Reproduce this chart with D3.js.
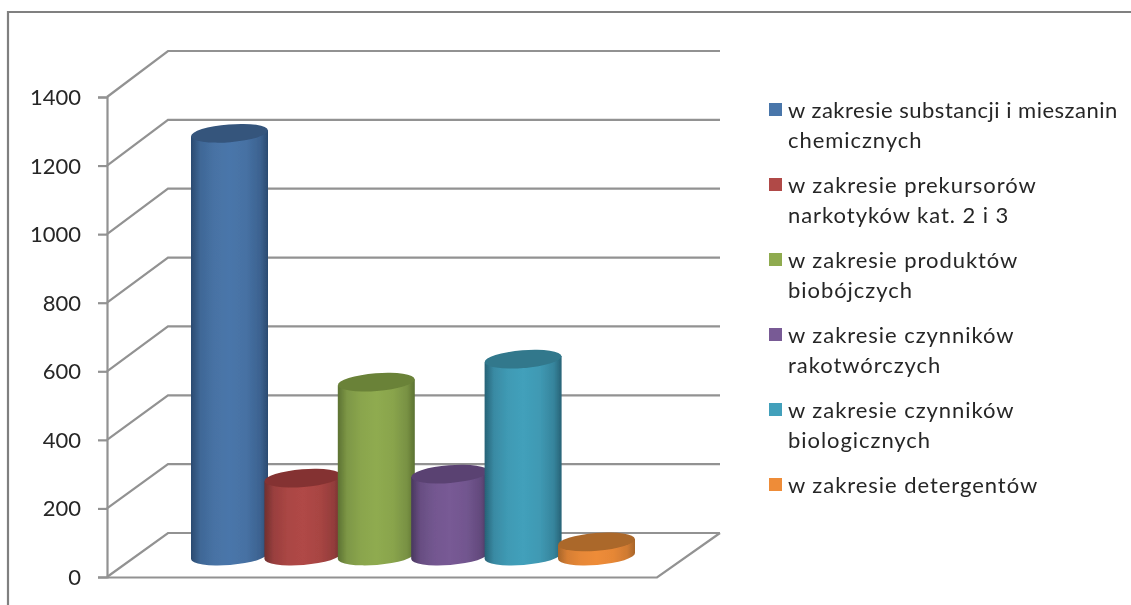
<!DOCTYPE html>
<html><head><meta charset="utf-8">
<script src="https://cdn.jsdelivr.net/npm/d3@7/dist/d3.min.js"></script>
<style>html,body{margin:0;padding:0;background:#fff}svg{display:block}text{font-family:Lato,sans-serif;fill:#262626}</style>
</head><body><div id="c"></div>
<script>
const legendLines = [
  ["w zakresie substancji i mieszanin","chemicznych"],
  ["w zakresie prekursorów","narkotyków kat. 2 i 3"],
  ["w zakresie produktów","biobójczych"],
  ["w zakresie czynników","rakotwórczych"],
  ["w zakresie czynników","biologicznych"],
  ["w zakresie detergentów"]];
const values = [1233, 227, 507, 239, 574, 41];
const mainColors = ["#4a76aa","#b04846","#8fab50","#785a95","#42a0bb","#ee8c38"];
const edgeColors = ["#2a4a70","#6f2f2e","#5c7232","#49375f","#276276","#a8652a"];
const topColors  = ["#34547c","#843230","#6a8238","#5a4272","#30788c","#ab672b"];
const yTicks = [0,200,400,600,800,1000,1200,1400];
const W=1131,H=605;
const svg=d3.select("#c").append("svg").attr("width",W).attr("height",H);
const defs=svg.append("defs");
defs.append("filter").attr("id","soft").attr("filterUnits","userSpaceOnUse").attr("x",0).attr("y",0).attr("width",W).attr("height",H)
  .append("feGaussianBlur").attr("stdDeviation",0.55);
const root=svg.append("g").attr("filter","url(#soft)");

const yFront=d3.scaleLinear().domain([0,1400]).range([577,97]);
const yBack=d3.scaleLinear().domain([0,1400]).range([533,51]);
const yBar=d3.scaleLinear().domain([0,1400]).range([556,76]);
const x=d3.scalePoint().domain(d3.range(values.length)).range([229.5,596.5]);
const gridCol="#929292";

root.append("path").attr("d","M8,605V12H1131").attr("fill","none").attr("stroke","#808080").attr("stroke-width",2.2);

const grid=root.append("g").attr("fill","none").attr("stroke",gridCol).attr("stroke-width",2.2);
yTicks.forEach(t=>{
  grid.append("path").attr("d",`M107,${yFront(t)}L168,${yBack(t)}H720`);
});
grid.append("path").attr("d",`M107,${yFront(0)+0.5}H657L720,${yBack(0)}`);

const axis=d3.axisLeft(yFront).tickValues(yTicks).tickSize(9).tickPadding(17).tickFormat(d3.format("d"));
const ag=root.append("g").attr("transform","translate(107,0)").call(axis);
ag.selectAll("path,line").attr("stroke",gridCol).attr("stroke-width",2.2);
ag.selectAll("text").style("font-size","22px").attr("fill","#262626").attr("dy","0.34em");

const rx=38.5, ry=8.9, rot=-4.5;
const dy=rx*Math.sin(rot*Math.PI/180);
values.forEach((v,i)=>{
  const id="g"+i;
  const mix=t=>d3.interpolateRgb(edgeColors[i],mainColors[i])(t);
  const g=defs.append("linearGradient").attr("id",id);
  [[0,edgeColors[i]],[0.12,mix(0.65)],[0.3,mix(0.9)],[0.5,mainColors[i]],[0.72,mix(0.88)],[0.9,mix(0.55)],[1,edgeColors[i]]]
    .forEach(s=>g.append("stop").attr("offset",s[0]).attr("stop-color",s[1]));
  const c=x(i), yt=yBar(v), yb=yBar(0);
  const L=c-rx,R=c+rx;
  root.append("path")
    .attr("d",`M${L},${yt-dy}L${L},${yb-dy}A${rx},${ry} ${rot} 0 0 ${R},${yb+dy}L${R},${yt+dy}Z`)
    .attr("fill",`url(#${id})`);
  root.append("ellipse").attr("cx",0).attr("cy",0).attr("rx",rx).attr("ry",ry)
    .attr("transform",`translate(${c},${yt}) rotate(${rot})`).attr("fill",topColors[i]);
});

const legY=d3.scaleLinear().domain([0,5]).range([110,485]);
legendLines.forEach((lines,i)=>{
  const y0=legY(i);
  root.append("rect").attr("x",769).attr("y",y0-7).attr("width",13).attr("height",13).attr("fill",mainColors[i]);
  lines.forEach((t,j)=>root.append("text").attr("x",788).attr("y",y0+30*j+7.5).attr("font-size",22)
    .attr("letter-spacing",t.length>30?0.5:0.95).text(t));
});
</script></body></html>
